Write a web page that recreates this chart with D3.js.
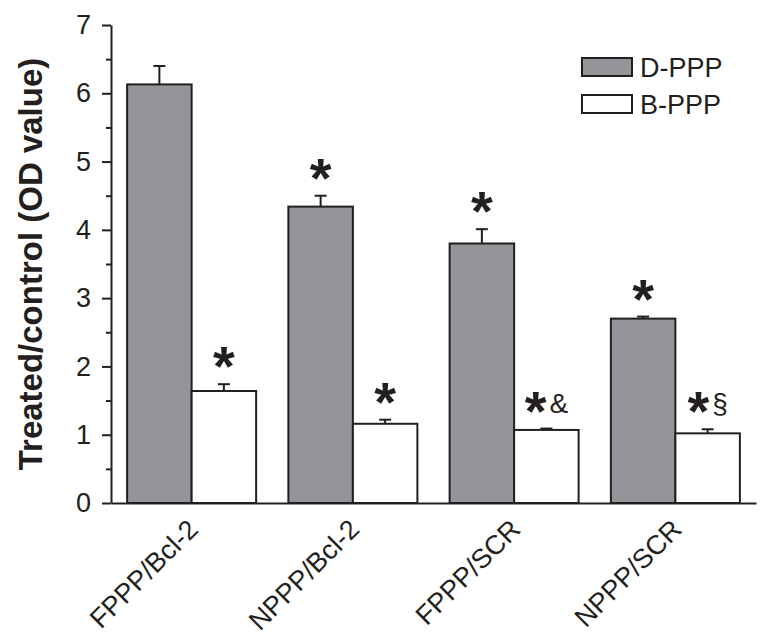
<!DOCTYPE html>
<html>
<head>
<meta charset="utf-8">
<script src="https://cdn.jsdelivr.net/npm/d3@7"></script>
<style>
  body { margin: 0; background: #fff; }
  text { font-family: "Liberation Sans", Arial, sans-serif; fill: #231f20; }
</style>
</head>
<body>
<div id="chart"></div>
<script>
var width = 772;
var height = 640;
var inkColor = '#231f20';
var grayFill = '#939598';
var labelSize = '27px';

// data
var groups = ['FPPP/Bcl-2', 'NPPP/Bcl-2', 'FPPP/SCR', 'NPPP/SCR'];
var seriesNames = ['D-PPP', 'B-PPP'];
var seriesFills = [grayFill, '#ffffff'];
var dpppValues = [6.13, 4.34, 3.80, 2.70];
var dpppErrors = [0.27, 0.16, 0.21, 0.03];
var bpppValues = [1.64, 1.16, 1.07, 1.02];
var bpppErrors = [0.10, 0.06, 0.02, 0.06];
var dpppMarks = ['', '', '', ''];
var dpppStars = [false, true, true, true];
var bpppStars = [true, true, true, true];
var bpppSymbols = ['', '', '&', '§'];
var yTicks = [0, 1, 2, 3, 4, 5, 6, 7];

var rows = groups.map(function(g, i) {
  return [
    { group: g, s: 0, v: dpppValues[i], e: dpppErrors[i], star: dpppStars[i], sym: dpppMarks[i] },
    { group: g, s: 1, v: bpppValues[i], e: bpppErrors[i], star: bpppStars[i], sym: bpppSymbols[i] }
  ];
});
var bars = [].concat.apply([], rows);

var svg = d3.select('#chart').append('svg')
      .attr('width', width)
      .attr('height', height);

var yScale = d3.scaleLinear()
      .domain([0, 7])
      .range([503, 25]);

var xScale = d3.scaleBand()
      .domain(groups)
      .range([111, 756])
      .paddingInner(0.2)
      .paddingOuter(0.1);

var xSub = d3.scaleBand()
      .domain([0, 1])
      .range([0, xScale.bandwidth()]);

// bars
var plot = svg.append('g');
plot.selectAll('rect.bar')
      .data(bars)
  .enter().append('rect')
      .attr('class', 'bar')
      .attr('x', d => xScale(d.group) + xSub(d.s))
      .attr('y', d => yScale(d.v))
      .attr('width', xSub.bandwidth())
      .attr('height', d => yScale(0) - yScale(d.v))
      .style('fill', d => seriesFills[d.s])
      .style('stroke', inkColor)
      .style('stroke-width', 2);

// error bars (upper only)
var err = plot.selectAll('g.err')
      .data(bars)
  .enter().append('g')
      .attr('class', 'err')
      .attr('transform', d => 'translate(' + (xScale(d.group) + xSub(d.s) + xSub.bandwidth() / 2) + ',0)');
err.append('line')
      .attr('y1', d => yScale(d.v))
      .attr('y2', d => yScale(d.v + d.e))
      .style('stroke', inkColor)
      .style('stroke-width', 2);
err.append('line')
      .attr('x1', -6).attr('x2', 6)
      .attr('y1', d => yScale(d.v + d.e))
      .attr('y2', d => yScale(d.v + d.e))
      .style('stroke', inkColor)
      .style('stroke-width', 2);

// significance marks
var marks = plot.selectAll('text.mark')
      .data(bars.filter(d => d.star || d.sym))
  .enter().append('text')
      .attr('class', 'mark')
      .attr('x', d => xScale(d.group) + xSub(d.s) + xSub.bandwidth() / 2)
      .attr('y', d => yScale(d.v + d.e) + 1)
      .style('text-anchor', 'middle');
marks.append('tspan')
      .style('font-size', '56px')
      .style('font-weight', 'bold')
      .text(d => d.star ? '*' : '');
marks.append('tspan')
      .attr('dx', 3)
      .attr('dy', -17)
      .style('font-size', '28px')
      .text(d => d.sym);

// y axis
var yAxis = d3.axisLeft(yScale)
      .tickValues(yTicks)
      .tickFormat(d3.format('d'))
      .tickSizeInner(9)
      .tickSizeOuter(0)
      .tickPadding(11);
var yAxisGroup = svg.append('g')
      .attr('transform', 'translate(111,0)')
      .call(yAxis);
yAxisGroup.selectAll('line, path').style('stroke', inkColor).style('stroke-width', 2);
yAxisGroup.selectAll('text')
      .style('font-size', labelSize)
      .style('font-family', '"Liberation Sans", Arial, sans-serif')
      .style('fill', inkColor);

// minor ticks at the halves
var minor = d3.axisLeft(yScale)
      .tickValues(yTicks.slice(0, -1).map(t => t + 0.5))
      .tickSizeInner(5)
      .tickSizeOuter(0)
      .tickFormat('');
var minorGroup = svg.append('g')
      .attr('transform', 'translate(111,0)')
      .call(minor);
minorGroup.select('.domain').remove();
minorGroup.selectAll('line').style('stroke', inkColor).style('stroke-width', 2);

// x axis
var xAxis = d3.axisBottom(xScale)
      .tickSize(0)
      .tickPadding(0);
var xAxisGroup = svg.append('g')
      .attr('transform', 'translate(0,503)')
      .call(xAxis);
xAxisGroup.select('.domain').style('stroke', inkColor).style('stroke-width', 2);
xAxisGroup.selectAll('text')
      .style('font-size', labelSize)
      .style('font-family', '"Liberation Sans", Arial, sans-serif')
      .style('fill', inkColor)
      .style('text-anchor', 'end')
      .attr('y', 0)
      .attr('dy', 0)
      .attr('transform', 'translate(8,28) rotate(-45)');

// y label
svg.append('text')
      .attr('transform', 'translate(42,264) rotate(-90)')
      .style('text-anchor', 'middle')
      .style('font-size', '33px')
      .style('font-weight', 'bold')
      .text('Treated/control (OD value)');

// legend
var legend = svg.selectAll('g.legend')
      .data(seriesNames)
  .enter().append('g')
      .attr('class', 'legend')
      .attr('transform', (d, i) => 'translate(582,' + (58 + i * 37) + ')');
legend.append('rect')
      .attr('width', 50)
      .attr('height', 18)
      .style('fill', (d, i) => seriesFills[i])
      .style('stroke', inkColor)
      .style('stroke-width', 2);
legend.append('text')
      .attr('x', 58)
      .attr('y', 19)
      .style('font-size', labelSize)
      .text(d => d);
</script>
</body>
</html>
